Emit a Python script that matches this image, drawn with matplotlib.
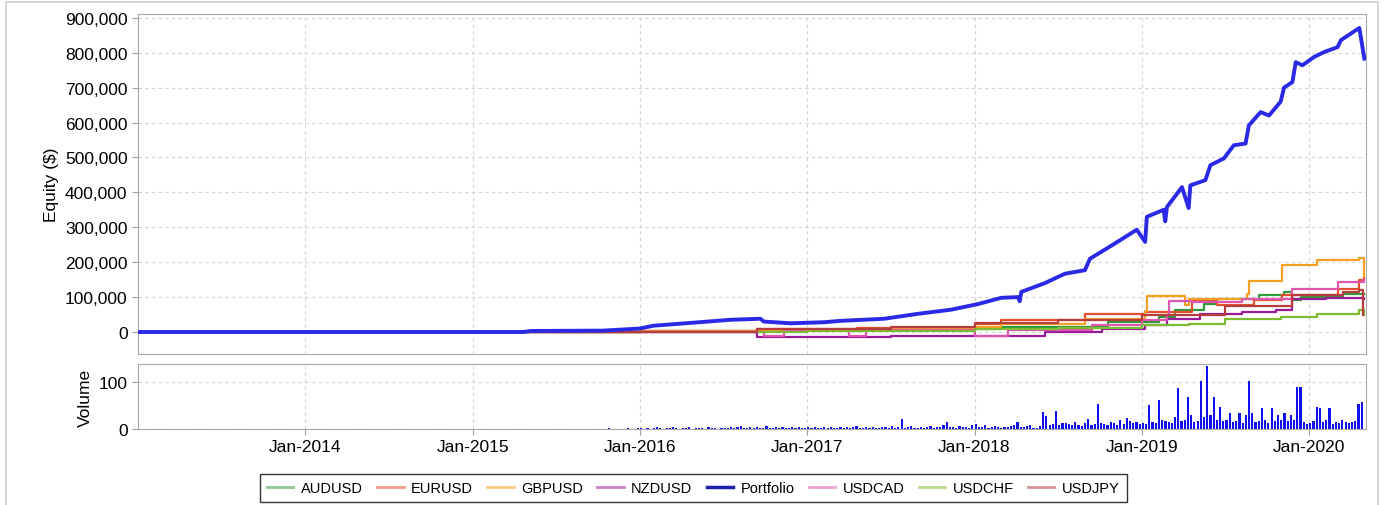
import numpy as np
import matplotlib
matplotlib.use("Agg")
import matplotlib.pyplot as plt
from matplotlib.lines import Line2D
from matplotlib.patches import Rectangle
from matplotlib.ticker import FuncFormatter

plt.rcParams['font.family'] = ['Liberation Sans', 'DejaVu Sans']

# equity curves, x in decimal years, values in $
portfolio_x = [2013.0, 2015.3, 2015.35, 2015.78, 2016.0, 2016.08, 2016.3, 2016.54, 2016.72, 2016.74,
               2016.9, 2017.1, 2017.2, 2017.46, 2017.66, 2017.86, 2018.02, 2018.16, 2018.26, 2018.27,
               2018.28, 2018.42, 2018.54, 2018.66, 2018.69, 2018.81, 2018.97, 2019.02, 2019.03, 2019.13,
               2019.14, 2019.15, 2019.24, 2019.28, 2019.29, 2019.38, 2019.41, 2019.49, 2019.55, 2019.62,
               2019.64, 2019.71, 2019.76, 2019.83, 2019.85, 2019.90, 2019.92, 2019.96, 2020.03, 2020.09,
               2020.17, 2020.19, 2020.30, 2020.33]
portfolio_y = [0, 0, 3000, 4000, 10000, 18000, 26000, 35000, 38000, 30000,
               25000, 28000, 32000, 38000, 52000, 64000, 80000, 98000, 100000, 88000,
               115000, 140000, 167000, 177000, 210000, 245000, 293000, 258000, 330000, 350000,
               317000, 358000, 415000, 355000, 420000, 435000, 478000, 497000, 535000, 540000,
               592000, 630000, 620000, 660000, 700000, 716000, 773000, 764000, 788000, 802000,
               816000, 836000, 871000, 783000]

audusd_x = [2013.0, 2016.0, 2017.0, 2017.6, 2018.16, 2018.8, 2019.1, 2019.2, 2019.37, 2019.45,
            2019.7, 2019.85, 2019.9, 2019.95, 2020.2, 2020.33]
audusd_y = [0, 2000, 6000, 8000, 14000, 29000, 43000, 62000, 81000, 95000,
            105000, 115000, 91000, 100000, 108000, 110000]

eurusd_x = [2013.0, 2016.0, 2016.7, 2017.3, 2018.0, 2018.16, 2018.66, 2019.02, 2019.3, 2019.45,
            2019.67, 2019.84, 2020.17, 2020.3, 2020.33]
eurusd_y = [0, 3000, 8000, 12000, 22000, 33000, 52000, 57000, 91000, 76000,
            91000, 105000, 124000, 150000, 155000]

gbpusd_x = [2013.0, 2016.0, 2017.0, 2017.5, 2018.0, 2018.16, 2018.66, 2019.02, 2019.03, 2019.26,
            2019.28, 2019.63, 2019.64, 2019.84, 2020.05, 2020.3, 2020.33]
gbpusd_y = [0, 2000, 5000, 10000, 15000, 24000, 38000, 60000, 103000, 76000,
            95000, 110000, 145000, 191000, 205000, 212000, 160000]

nzdusd_x = [2013.0, 2016.7, 2017.5, 2018.0, 2018.42, 2018.76, 2019.02, 2019.15, 2019.35, 2019.6,
            2019.8, 2019.9, 2020.1, 2020.33]
nzdusd_y = [0, -14000, -12000, -10000, 0, 10000, 19000, 38000, 52000, 57000,
            62000, 95000, 98000, 95000]

usdcad_x = [2013.0, 2016.74, 2016.86, 2017.25, 2017.35, 2018.0, 2018.2, 2018.7, 2019.0, 2019.15,
            2019.16, 2019.3, 2019.6, 2019.9, 2020.17, 2020.33]
usdcad_y = [0, -12000, 5000, -10000, 5000, -12000, 5000, 20000, 35000, 50000,
            88000, 85000, 95000, 124000, 143000, 148000]

usdchf_x = [2013.0, 2017.0, 2018.0, 2018.5, 2019.0, 2019.28, 2019.5, 2019.83, 2020.05, 2020.3, 2020.33]
usdchf_y = [0, 3000, 8000, 12000, 20000, 24000, 38000, 43000, 52000, 62000, 50000]

usdjpy_x = [2013.0, 2016.7, 2017.2, 2017.5, 2018.0, 2018.5, 2019.0, 2019.5, 2019.9, 2020.2, 2020.3, 2020.32]
usdjpy_y = [0, 8000, 10000, 15000, 25000, 35000, 50000, 75000, 105000, 115000, 120000, 50000]

# weekly volume from mid-2015
vol_start = 2015.5
volume = [0, 1, 0, 0, 1, 0, 1, 0, 0, 1, 0, 1, 1, 0, 1, 0, 2, 1, 0, 1, 1, 0, 2, 1, 1, 2,
          2, 1, 3, 1, 2, 4, 2, 1, 3, 2, 5, 2, 1, 3, 2, 4, 1, 2, 3, 2, 1, 4, 2, 3, 1, 2,
          3, 2, 5, 2, 4, 6, 2, 3, 5, 2, 4, 3, 2, 6, 3, 2, 5, 3, 4, 2, 3, 5, 2, 4, 3, 2,
          4, 2, 5, 3, 2, 4, 3, 5, 2, 3, 4, 2, 5, 3, 4, 6, 3, 2, 5, 3, 4, 3, 2, 5, 4, 3,
          7, 3, 5, 21, 3, 4, 6, 3, 2, 5, 3, 4, 6, 3, 5, 4, 8, 14, 5, 4, 3, 6, 5, 4, 3, 8,
          10, 5, 4, 8, 3, 5, 6, 4, 3, 5, 4, 6, 8, 14, 5, 4, 6, 9, 3, 2, 6, 36, 28, 8, 10, 39,
          8, 12, 12, 10, 8, 15, 9, 7, 12, 21, 8, 10, 54, 12, 10, 8, 15, 12, 9, 20, 10, 24, 18, 12, 15, 10,
          12, 10, 51, 15, 12, 61, 20, 18, 15, 12, 25, 87, 18, 20, 68, 30, 15, 18, 101, 25, 134, 30, 68, 20, 46, 18,
          20, 35, 15, 18, 35, 12, 30, 101, 35, 15, 18, 45, 20, 12, 45, 18, 30, 20, 35, 18, 30, 20, 89, 89, 15, 10,
          12, 18, 46, 45, 15, 20, 45, 10, 15, 12, 20, 15, 12, 14, 18, 54, 57]

years = [2014, 2015, 2016, 2017, 2018, 2019, 2020]
year_labels = ['Jan-2014', 'Jan-2015', 'Jan-2016', 'Jan-2017', 'Jan-2018', 'Jan-2019', 'Jan-2020']

series = [
    ('AUDUSD', audusd_x, audusd_y, '#2e9a3a'),
    ('EURUSD', eurusd_x, eurusd_y, '#e5502c'),
    ('GBPUSD', gbpusd_x, gbpusd_y, '#f5a020'),
    ('NZDUSD', nzdusd_x, nzdusd_y, '#9a1a9a'),
    ('USDCAD', usdcad_x, usdcad_y, '#e055b0'),
    ('USDCHF', usdchf_x, usdchf_y, '#7cbc30'),
    ('USDJPY', usdjpy_x, usdjpy_y, '#b83c3c'),
]
port_color = '#2a2ae6'

fig = plt.figure(figsize=(13.84, 5.06), dpi=100)
fig.patches.append(Rectangle((0.004, -0.01), 0.992, 1.004, transform=fig.transFigure,
                             fill=False, edgecolor='#d0d0d0', lw=1.2))

ax = fig.add_axes([0.0997, 0.2984, 0.8873, 0.672])
axv = fig.add_axes([0.0997, 0.1502, 0.8873, 0.1285], sharex=ax)

for name, xs, ys, c in series:
    ax.step(xs, ys, where='post', color=c, lw=1.6, zorder=2)
ax.plot(portfolio_x, portfolio_y, color=port_color, lw=2.8, zorder=3)

ax.set_xlim(2013.0, 2020.34)
ax.set_ylim(-63000, 911000)
ax.set_yticks(np.arange(0, 900001, 100000))
ax.yaxis.set_major_formatter(FuncFormatter(lambda v, p: f'{int(v):,}'))
ax.set_ylabel('Equity ($)', fontsize=12.5)

vol_x = vol_start + np.arange(len(volume)) / 52.0
axv.bar(vol_x, volume, width=0.013, color='#1010ee', edgecolor='none', align='edge')
axv.set_ylim(0, 138)
axv.set_yticks([0, 100])
axv.set_ylabel('Volume', fontsize=12.5)
axv.set_xticks(years)
axv.set_xticklabels(year_labels)

for a in (ax, axv):
    a.grid(True, ls=(0, (3, 3)), color='#d4d4d4', lw=0.8)
    a.set_axisbelow(True)
    for s in a.spines.values():
        s.set_color('#a8a8a8')
    a.tick_params(colors='#a0a0a0', labelcolor='black', labelsize=12.5, length=4)
ax.tick_params(axis='x', labelbottom=False, length=0)

handles = [Line2D([], [], color=c, lw=2, alpha=0.55) for _, _, _, c in series]
names = [s[0] for s in series]
handles.insert(4, Line2D([], [], color='#2020b0', lw=2.5))
names.insert(4, 'Portfolio')
leg = fig.legend(handles, names, loc='center', bbox_to_anchor=(0.501, 0.034), ncol=8,
                 frameon=True, fancybox=False, fontsize=10.5, handlelength=1.8,
                 columnspacing=1.0, handletextpad=0.5, borderpad=0.5)
leg.get_frame().set_edgecolor('black')
leg.get_frame().set_linewidth(1.0)

fig.savefig('out.png', dpi=100)
